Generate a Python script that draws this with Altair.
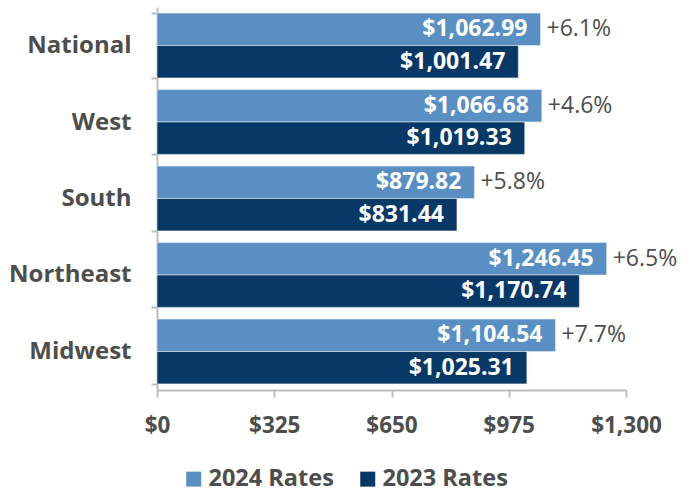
import altair as alt
import pandas as pd

regions = ["National", "West", "South", "Northeast", "Midwest"]
rates_2024 = [1062.99, 1066.68, 879.82, 1246.45, 1104.54]
rates_2023 = [1001.47, 1019.33, 831.44, 1170.74, 1025.31]
pct_change = ["+6.1%", "+4.6%", "+5.8%", "+6.5%", "+7.7%"]
series = ["2024 Rates", "2023 Rates"]
colors = ["#5a8fc3", "#083866"]
x_ticks = [0, 325, 650, 975, 1300]

rows = []
for i, r in enumerate(regions):
    rows.append(dict(region=r, series=series[0], value=rates_2024[i],
                     label=f"${rates_2024[i]:,.2f}", pct=pct_change[i]))
    rows.append(dict(region=r, series=series[1], value=rates_2023[i],
                     label=f"${rates_2023[i]:,.2f}", pct=""))
df = pd.DataFrame(rows)

FONT = "Open Sans"
GRAY = "#4d4d4d"
AXIS_GRAY = "#bdbdbd"

y_enc = alt.Y(
    "region:N", sort=regions, title=None,
    scale=alt.Scale(paddingInner=0.153, paddingOuter=0.08),
    axis=alt.Axis(tickBand="extent", labelFont=FONT, labelFontSize=24,
                  labelFontWeight="bold", labelColor=GRAY, labelPadding=20,
                  domainColor=AXIS_GRAY, tickColor=AXIS_GRAY, tickSize=6,
                  domainWidth=2, tickWidth=2),
)
yoff = alt.YOffset("series:N", sort=series,
                   scale=alt.Scale(paddingInner=0, paddingOuter=0))
x_enc = alt.X(
    "value:Q", title=None,
    scale=alt.Scale(domain=[0, 1300], nice=False),
    axis=alt.Axis(values=x_ticks, format="$,.0f", labelFont=FONT,
                  labelFontSize=22.5, labelFontWeight="bold", labelColor=GRAY,
                  labelPadding=17, labelFlush=False, labelOverlap=False,
                  domainColor=AXIS_GRAY, tickColor=AXIS_GRAY,
                  tickSize=7, grid=False, domainWidth=2, tickWidth=2),
)

base = alt.Chart(df).encode(y=y_enc, yOffset=yoff, x=x_enc)

bars = base.mark_bar(stroke="#e8eef5", strokeWidth=0.6).encode(
    color=alt.Color(
        "series:N", sort=series, title=None,
        scale=alt.Scale(domain=series, range=colors),
        legend=alt.Legend(orient="none", legendX=25, legendY=460,
                          direction="horizontal", symbolType="square",
                          symbolSize=225, symbolStrokeWidth=0,
                          labelFont=FONT, labelFontSize=23.5,
                          labelFontWeight="bold", labelColor=GRAY,
                          columnPadding=22, labelOffset=3),
    )
)

values = base.mark_text(align="right", dx=-13, font=FONT, fontSize=23,
                        fontWeight="bold", color="white").encode(text="label:N")

pcts = base.transform_filter(alt.datum.series == series[0]).mark_text(
    align="left", dx=6, font=FONT, fontSize=23, color=GRAY
).encode(text="pct:N")

chart = (bars + values + pcts).properties(
    width=469, height=383,
    autosize=alt.AutoSizeParams(type="none"),
    padding={"left": 157, "top": 7, "right": 66, "bottom": 103},
).configure_view(stroke=None)

chart.save("out.html", embed_options={"renderer": "svg", "actions": False})
